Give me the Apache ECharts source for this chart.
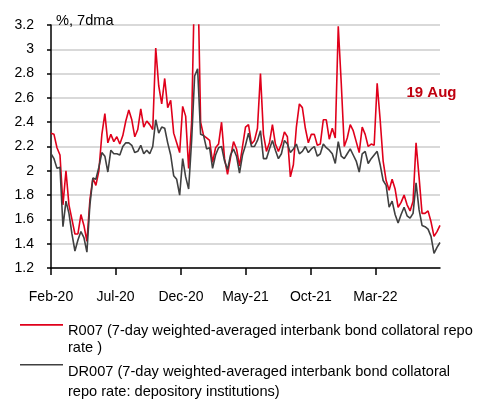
<!DOCTYPE html>
<html>
<head>
<meta charset="utf-8">
<script src="https://cdn.jsdelivr.net/npm/echarts@6/dist/echarts.min.js"></script>
<style>html,body{margin:0;padding:0;background:#fff}#c{width:488px;height:412px}</style>
</head>
<body>
<div id="c"></div>
<script>
// weekly observations starting 2020-02-01
const startDate = '2020-02-01';
const stepDays = 7;

const r007 = [
 2.31,2.30,2.19,2.13,1.72,2.00,1.72,1.60,1.48,1.48,
 1.64,1.55,1.42,1.76,1.94,1.88,2.00,2.30,2.47,2.23,
 2.30,2.24,2.28,2.22,2.29,2.41,2.50,2.42,2.28,2.34,
 2.51,2.36,2.41,2.38,2.34,3.01,2.70,2.55,2.76,2.52,
 2.58,2.31,2.23,2.15,2.53,2.45,2.02,2.40,3.60,3.70,
 2.40,2.29,2.27,2.25,2.07,2.19,2.22,2.40,2.10,1.97,
 2.11,2.24,2.18,2.04,2.20,2.36,2.38,2.22,2.25,2.35,
 2.80,2.30,2.16,2.23,2.38,2.22,2.16,2.22,2.32,2.28,
 1.95,2.05,2.36,2.55,2.52,2.35,2.23,2.30,2.30,2.21,
 2.22,2.42,2.42,2.26,2.35,2.27,3.19,2.72,2.20,2.27,
 2.38,2.33,2.24,2.15,2.36,2.30,2.20,2.22,2.21,2.72,
 2.42,2.08,1.92,1.84,1.93,1.85,1.70,1.74,1.80,1.72,
 1.67,1.75,2.23,1.95,1.65,1.65,1.67,1.58,1.46,1.50,
 1.55
];

const dr007 = [
 2.14,2.10,2.02,2.03,1.54,1.75,1.65,1.48,1.34,1.43,
 1.50,1.45,1.33,1.72,1.94,1.93,2.03,2.15,2.12,1.99,
 2.17,2.14,2.14,2.13,2.20,2.23,2.23,2.21,2.15,2.16,
 2.21,2.14,2.17,2.14,2.20,2.42,2.31,2.36,2.35,2.23,
 2.13,1.96,1.93,1.80,2.10,1.95,1.85,2.25,2.78,2.84,
 2.30,2.29,2.18,2.19,2.02,2.13,2.19,2.20,2.08,2.01,
 2.13,2.18,2.12,1.98,2.13,2.21,2.31,2.20,2.20,2.25,
 2.33,2.10,2.10,2.18,2.25,2.17,2.10,2.14,2.25,2.22,
 2.15,2.18,2.22,2.14,2.16,2.20,2.15,2.18,2.20,2.12,
 2.14,2.22,2.19,2.17,2.14,2.06,2.24,2.12,2.10,2.14,
 2.18,2.13,2.08,1.99,2.14,2.16,2.06,2.10,2.13,2.16,
 2.05,1.92,1.88,1.70,1.75,1.64,1.57,1.64,1.70,1.63,
 1.61,1.65,1.90,1.68,1.55,1.54,1.52,1.46,1.32,1.37,
 1.41
];

const tickDates = ['2020-02-01','2020-07-01','2020-12-01','2021-05-01','2021-10-01','2022-03-01'];
const tickLabels = ['Feb-20','Jul-20','Dec-20','May-21','Oct-21','Mar-22'];

const seriesNames = ['R007', 'DR007'];
const legendTexts = [
  'R007 (7-day weighted-averaged interbank bond collatoral repo\nrate )',
  'DR007 (7-day weighted-averaged interbank bond collatoral\nrepo rate: depository institutions)'
];
const unitLabel = '%, 7dma';
const dateNote = '19 Aug';

const DAY = 86400000;
const t0 = Date.parse(startDate + 'T00:00:00Z');
const dayOf = s => (Date.parse(s + 'T00:00:00Z') - t0) / DAY;
const dates = r007.map((_, i) => new Date(t0 + i * stepDays * DAY).toISOString().slice(0, 10));
const xs = dates.map(dayOf);
const tickVals = tickDates.map(dayOf);
const xMax = xs[xs.length - 1];

const FONT = "'Liberation Sans', Arial, sans-serif";
const RED = '#e0001b';
const GRAY = '#404040';

// legend marker: a short bar sitting at the top of a taller (invisible) icon box
const markerIcon = h => 'path://M0,0H43V1.6H0Z M0,' + (h - 0.01) + 'H0.01V' + h + 'H0Z';

const chart = echarts.init(document.getElementById('c'), null, {renderer: 'canvas'});
chart.setOption({
  animation: false,
  backgroundColor: '#fff',
  title: [
    {text: unitLabel, left: 56, top: 12.5, padding: 0,
     textStyle: {fontFamily: FONT, fontSize: 14.6, fontWeight: 'normal', color: '#000', lineHeight: 16}},
    {text: dateNote, left: 406.5, top: 85, padding: 0,
     textStyle: {fontFamily: FONT, fontSize: 15, fontWeight: 'bold', color: '#c0000f', lineHeight: 16}}
  ],
  legend: [
    {data: [seriesNames[0]], left: 20, top: 322, padding: 0, icon: markerIcon(30.5),
     itemWidth: 43, itemHeight: 30.5, itemGap: 0,
     formatter: () => legendTexts[0],
     textStyle: {fontFamily: FONT, fontSize: 14.6, color: '#000', lineHeight: 17.3}},
    {data: [seriesNames[1]], left: 20, top: 362, padding: 0, icon: markerIcon(35.5),
     itemWidth: 43, itemHeight: 35.5, itemGap: 0,
     formatter: () => legendTexts[1],
     textStyle: {fontFamily: FONT, fontSize: 14.6, color: '#000', lineHeight: 19.7}}
  ],
  grid: {left: 51, right: 48, top: 25, bottom: 144, containLabel: false, outerBoundsMode: 'none'},
  xAxis: {
    type: 'value', min: 0, max: xMax,
    axisLine: {show: true, lineStyle: {color: '#000', width: 1.5}},
    axisTick: {show: true, length: 7, lineStyle: {color: '#000', width: 1.5}, customValues: tickVals},
    axisLabel: {
      customValues: tickVals, margin: 21, color: '#000', fontFamily: FONT, fontSize: 14, lineHeight: 16,
      formatter: v => {
        const i = tickVals.findIndex(t => Math.abs(t - v) < 0.5);
        return i >= 0 ? tickLabels[i] : '';
      }
    },
    splitLine: {show: false}
  },
  yAxis: {
    type: 'value', min: 1.2, max: 3.2, interval: 0.2,
    axisLine: {show: true, lineStyle: {color: '#000', width: 1.5}},
    axisTick: {show: true, length: 4, lineStyle: {color: '#000', width: 1.5}},
    axisLabel: {margin: 17, color: '#000', fontFamily: FONT, fontSize: 14},
    splitLine: {show: true, lineStyle: {color: '#d9d9d9', width: 2}}
  },
  series: [
    {name: seriesNames[0], type: 'line', data: xs.map((x, i) => [x, r007[i]]),
     showSymbol: false, symbol: 'none', clip: true, color: RED, lineStyle: {color: RED, width: 1.6}},
    {name: seriesNames[1], type: 'line', data: xs.map((x, i) => [x, dr007[i]]),
     showSymbol: false, symbol: 'none', clip: true, color: GRAY, lineStyle: {color: GRAY, width: 1.6}}
  ]
});
</script>
</body>
</html>
